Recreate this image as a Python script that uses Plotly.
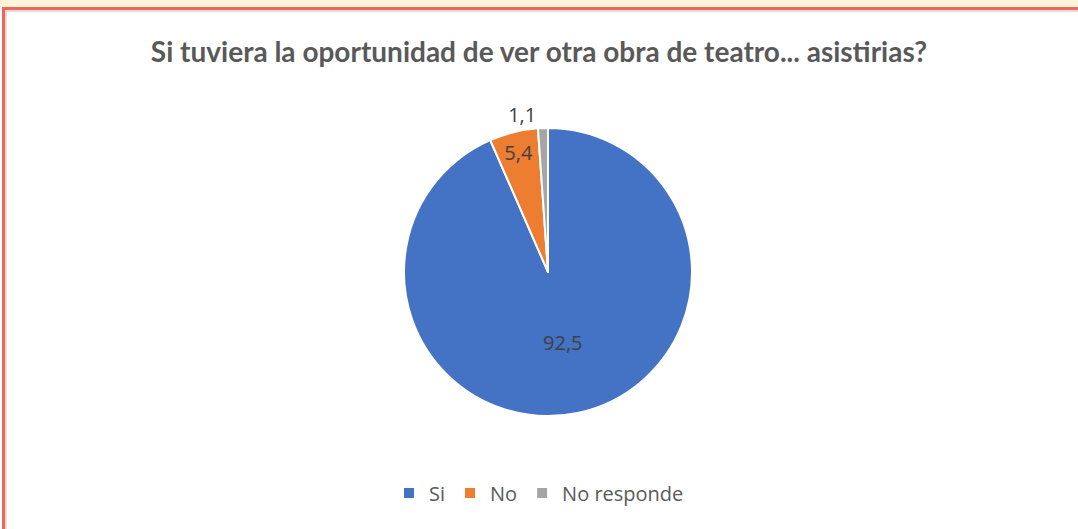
import plotly.graph_objects as go

categories = ["Si", "No", "No responde"]
values = [92.5, 5.4, 1.1]
labels_txt = ["92,5", "5,4", "1,1"]
colors = ["#4472C4", "#ED7D31", "#A5A5A5"]

W, H = 1078, 529

fig = go.Figure()
fig.add_trace(go.Pie(
    labels=categories,
    values=values,
    text=labels_txt,
    textinfo="text",
    textposition=["inside", "inside", "outside"],
    insidetextorientation="horizontal",
    sort=False,
    direction="clockwise",
    rotation=0,
    marker=dict(colors=colors, line=dict(color="white", width=2)),
    textfont=dict(family="Open Sans, Arial", size=20, color="#404040"),
    outsidetextfont=dict(family="Open Sans, Arial", size=20, color="#404040"),
    insidetextfont=dict(family="Open Sans, Arial", size=20, color="#404040"),
    domain=dict(x=[404 / W, 692 / W], y=[(H - 416) / H, (H - 128) / H]),
    hoverinfo="label+value",
    showlegend=True,
))

shapes = [
    dict(type="rect", xref="paper", yref="paper", x0=0, x1=1, y0=1 - 7 / H, y1=1,
         fillcolor="#FFF4DC", line=dict(width=0), layer="above"),
    dict(type="rect", xref="paper", yref="paper", x0=2 / W, x1=1, y0=1 - 10 / H, y1=1 - 7 / H,
         fillcolor="#F4625A", line=dict(width=0), layer="above"),
    dict(type="rect", xref="paper", yref="paper", x0=5 / W, x1=1, y0=1 - 12 / H, y1=1 - 10 / H,
         fillcolor="#DCDCDC", line=dict(width=0), layer="above"),
    dict(type="rect", xref="paper", yref="paper", x0=2 / W, x1=5 / W, y0=0, y1=1 - 7 / H,
         fillcolor="#F4625A", line=dict(width=0), layer="above"),
    dict(type="rect", xref="paper", yref="paper", x0=5 / W, x1=7 / W, y0=0, y1=1 - 10 / H,
         fillcolor="#DCDCDC", line=dict(width=0), layer="above"),
]

fig.update_layout(
    width=W, height=H,
    margin=dict(l=0, r=0, t=0, b=0),
    paper_bgcolor="white",
    plot_bgcolor="white",
    shapes=shapes,
    title=dict(
        text="<b>Si tuviera la oportunidad de ver otra obra de teatro... asistirias?</b>",
        x=0.5, xanchor="center", xref="paper",
        y=1 - 52 / H, yanchor="middle", yref="container",
        font=dict(family="Lato, sans-serif", size=28, color="#595959"),
    ),
    legend=dict(
        orientation="h", x=0.5, xanchor="center", y=(H - 493) / H, yanchor="middle",
        font=dict(family="Open Sans, Arial", size=20, color="#595959"),
        itemwidth=30,
    ),
)

fig.write_html("out.html", config={"displayModeBar": False},
               post_script="document.body.style.margin='0';")
